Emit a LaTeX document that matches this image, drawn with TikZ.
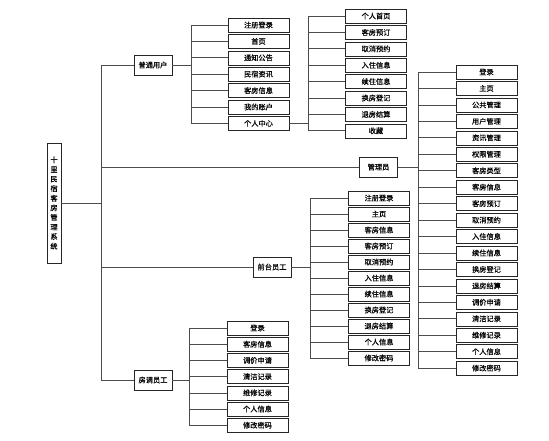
\documentclass[tikz,border=0pt]{standalone}
\usepackage{fontspec}
\newfontfamily\cjk[FakeBold=0.4]{Noto Sans CJK SC}
\usetikzlibrary{positioning,shadows}

\tikzset{
  box/.style={draw=black!85, fill=white, line width=0.5pt, inner sep=0pt,
    font=\cjk\fontsize{7.2}{8}\selectfont,
    drop shadow={shadow xshift=0.7pt, shadow yshift=-0.7pt, fill=black!45, opacity=1}},
  leaf/.style={box, minimum width=61pt, minimum height=14pt},
  group/.style={box, minimum width=38pt, minimum height=20pt},
  wire/.style={draw=black!70, line width=0.6pt}
}

\begin{document}
\begin{tikzpicture}[x=1pt,y=-1pt]
  \fill[white] (0,0) rectangle (549,441);
  \useasboundingbox (0,0) rectangle (549,441);

  % root and trunk
  \node[box, minimum width=14pt, minimum height=120pt, align=center,
        font=\cjk\fontsize{7.2}{9.6}\selectfont] (sys) at (54,203)
    {十\\里\\民\\宿\\客\\房\\管\\理\\系\\统};
  \coordinate (trunk) at (101,203);

  \node[group] (user)  at (153,65) {普通用户};
  \node[group] (admin) at (378.5,167) {管理员};
  \node[group] (front) at (272,267) {前台员工};
  \node[group] (house) at (153,380) {房调员工};

  \draw[wire] (sys) -- (trunk);
  \draw[wire] (trunk |- user) -- (trunk |- house);
  \foreach \g in {user,admin,front,house}
    \draw[wire] (trunk |- \g) -- (\g);

  % 普通用户
  \foreach \t [count=\i] in {注册登录,首页,通知公告,民宿资讯,客房信息,我的账户,个人中心}
    \node[leaf] (u\i) at (258.5,{25+16.4*(\i-1)}) {\t};
  \coordinate (ubus) at (191,0);
  \draw[wire] (user) -- (ubus |- user);
  \draw[wire] (ubus |- u1) -- (ubus |- u7);
  \foreach \i in {1,...,7}
    \draw[wire] (ubus |- u\i) -- (u\i);

  % 个人中心
  \foreach \t [count=\i] in {个人首页,客房预订,取消预约,入住信息,续住信息,换房登记,退房结算,收藏}
    \node[leaf] (p\i) at (376,{16+16.4*(\i-1)}) {\t};
  \coordinate (pbus) at (308,0);
  \draw[wire] (u7) -- (pbus |- u7);
  \draw[wire] (pbus |- p1) -- (pbus |- p8);
  \foreach \i in {1,...,8}
    \draw[wire] (pbus |- p\i) -- (p\i);

  % 管理员
  \foreach \t [count=\i] in {登录,主页,公共管理,用户管理,资讯管理,权限管理,客房类型,客房信息,客房预订,取消预约,
      入住信息,续住信息,换房登记,退房结算,调价申请,清洁记录,维修记录,个人信息,修改密码}
    \node[leaf] (a\i) at (486.5,{72+16.45*(\i-1)}) {\t};
  \coordinate (abus) at (418,0);
  \draw[wire] (admin) -- (abus |- admin);
  \draw[wire] (abus |- a1) -- (abus |- a19);
  \foreach \i in {1,...,19}
    \draw[wire] (abus |- a\i) -- (a\i);

  % 前台员工
  \foreach \t [count=\i] in {注册登录,主页,客房信息,客房预订,取消预约,入住信息,续住信息,换房登记,退房结算,个人信息,修改密码}
    \node[leaf] (f\i) at (379,{198+16*(\i-1)}) {\t};
  \coordinate (fbus) at (310,0);
  \draw[wire] (front) -- (fbus |- front);
  \draw[wire] (fbus |- f1) -- (fbus |- f11);
  \foreach \i in {1,...,11}
    \draw[wire] (fbus |- f\i) -- (f\i);

  % 房调员工
  \foreach \t [count=\i] in {登录,客房信息,调价申请,清洁记录,维修记录,个人信息,修改密码}
    \node[leaf] (h\i) at (257.5,{328+16.2*(\i-1)}) {\t};
  \coordinate (hbus) at (189,0);
  \draw[wire] (house) -- (hbus |- house);
  \draw[wire] (hbus |- h1) -- (hbus |- h7);
  \foreach \i in {1,...,7}
    \draw[wire] (hbus |- h\i) -- (h\i);
\end{tikzpicture}
\end{document}
